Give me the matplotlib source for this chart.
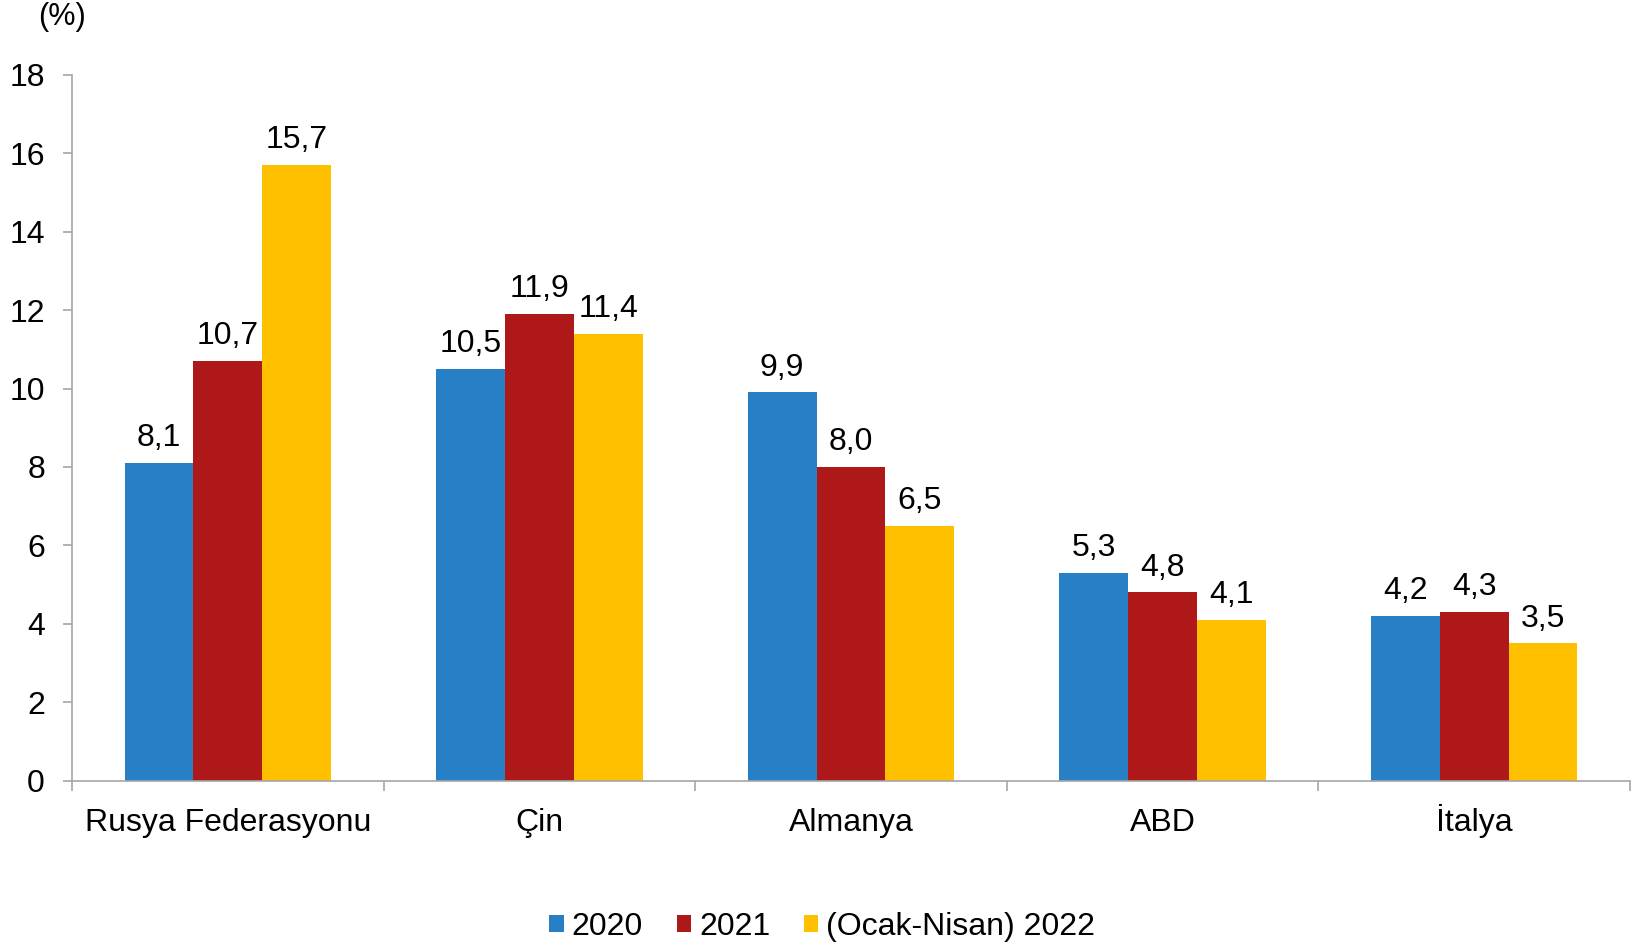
import numpy as np
import matplotlib.pyplot as plt
from matplotlib.patches import Patch

plt.rcParams['font.family'] = ['Liberation Sans', 'DejaVu Sans']

countries = ['Rusya Federasyonu', 'Çin', 'Almanya', 'ABD', 'İtalya']
series_names = ['2020', '2021', '(Ocak-Nisan) 2022']
v2020 = [8.1, 10.5, 9.9, 5.3, 4.2]
v2021 = [10.7, 11.9, 8.0, 4.8, 4.3]
v2022 = [15.7, 11.4, 6.5, 4.1, 3.5]
yticks = [0, 2, 4, 6, 8, 10, 12, 14, 16, 18]

colors = ['#2780C5', '#AE1818', '#FFC000']
axis_grey = '#A6A6A6'
fs = 23

fig = plt.figure(figsize=(16.38, 9.46), dpi=100)
ax = fig.add_axes([0.0440, 0.1747, 0.9511, 0.7463])

x = np.arange(len(countries))
w = 0.221
for k, vals in enumerate([v2020, v2021, v2022]):
    pos = x + (k - 1) * w
    ax.bar(pos, vals, width=w, color=colors[k], linewidth=0)
    for p, v in zip(pos, vals):
        ax.annotate(('%.1f' % v).replace('.', ','), (p, v), xytext=(0, 7),
                    textcoords='offset points', ha='center', va='bottom',
                    fontsize=fs)

ax.set_xlim(-0.5, len(countries) - 0.5)
ax.set_ylim(0, 18)
ax.set_yticks(yticks)
ax.set_yticklabels([str(t) for t in yticks], fontsize=fs)
ax.set_xticks(x)
ax.set_xticklabels(countries, fontsize=fs)
for lab in ax.get_xticklabels():
    lab.set_verticalalignment('baseline')
ax.set_xticks(np.arange(len(countries) + 1) - 0.5, minor=True)
ax.tick_params(axis='x', which='major', length=0, pad=36)
ax.tick_params(axis='x', which='minor', length=7, width=1.2, color=axis_grey)
ax.tick_params(axis='y', length=6.5, width=1.2, color=axis_grey, pad=13)

for s in ['top', 'right']:
    ax.spines[s].set_visible(False)
for s in ['left', 'bottom']:
    ax.spines[s].set_color(axis_grey)
    ax.spines[s].set_linewidth(1.2)

fig.text(0.038, 0.982, '(%)', fontsize=22, ha='center', va='center')

handles = [Patch(facecolor=c, edgecolor='none') for c in colors]
fig.legend(handles, series_names, loc='center', bbox_to_anchor=(0.502, 0.02),
           ncol=3, frameon=False, fontsize=fs, handlelength=0.45,
           handleheight=0.45, handletextpad=0.25, columnspacing=1.05)

fig.savefig('out.png', dpi=100)
